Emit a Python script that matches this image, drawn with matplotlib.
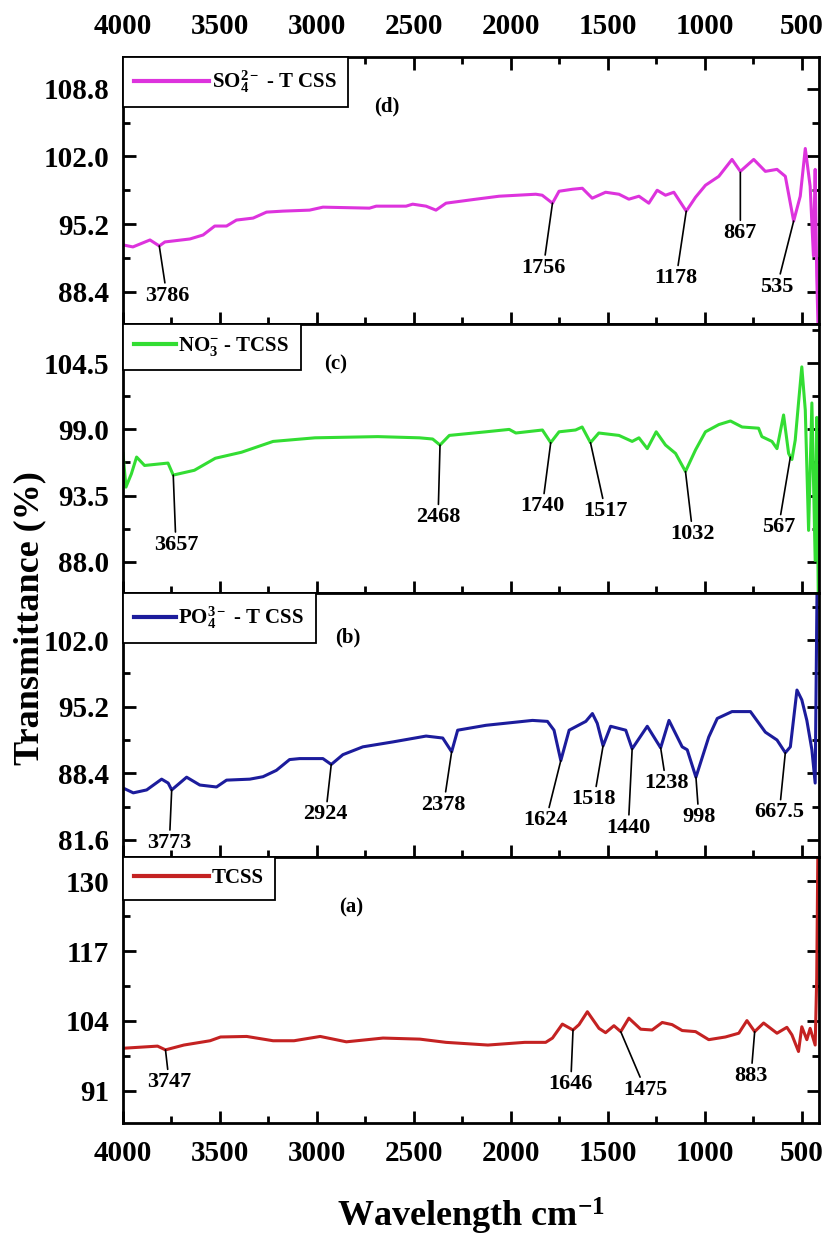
import numpy as np
import matplotlib
matplotlib.use("Agg")
import matplotlib.pyplot as plt
from matplotlib.ticker import MultipleLocator, AutoMinorLocator, FormatStrFormatter

plt.rcParams['font.family'] = ['Liberation Serif', 'DejaVu Serif']
plt.rcParams['font.weight'] = 'bold'
plt.rcParams['mathtext.fontset'] = 'custom'
plt.rcParams['mathtext.rm'] = 'Liberation Serif:bold'
plt.rcParams['mathtext.it'] = 'Liberation Serif:bold'
plt.rcParams['mathtext.bf'] = 'Liberation Serif:bold'

# (d) SO4 2- - TCSS
wn_d = [4000, 3949, 3861, 3813, 3784, 3655, 3587, 3527, 3466, 3415, 3329, 3260, 3175, 3038,
        2969, 2729, 2694, 2540, 2506, 2437, 2386, 2334, 2180, 2060, 1871, 1838, 1785, 1751,
        1682, 1631, 1580, 1511, 1442, 1391, 1339, 1288, 1245, 1202, 1159, 1095, 1047, 996,
        927, 859, 816, 747, 687, 627, 584, 541, 507, 481, 456, 439, 430, 422, 414]
t_d = [93.1, 92.9, 93.6, 93.0, 93.4, 93.7, 94.1, 95.0, 95.0, 95.6, 95.8, 96.4, 96.5, 96.6,
       96.9, 96.8, 97.0, 97.0, 97.2, 97.0, 96.6, 97.3, 97.7, 98.0, 98.2, 98.1, 97.3, 98.5,
       98.7, 98.8, 97.8, 98.4, 98.2, 97.7, 98.0, 97.3, 98.6, 98.1, 98.4, 96.5, 97.9, 99.1,
       100.0, 101.7, 100.5, 101.7, 100.5, 100.7, 100.0, 95.5, 98.0, 102.8, 99.0, 92.0, 100.7, 90.0, 84.0]

# (c) NO3- - TCSS
wn_c = [4000, 3985, 3957, 3930, 3889, 3768, 3741, 3632, 3524, 3389, 3226, 3010, 2686, 2471,
        2403, 2365, 2317, 2128, 2008, 1974, 1837, 1794, 1751, 1666, 1632, 1589, 1546, 1442,
        1374, 1339, 1296, 1250, 1202, 1150, 1099, 1047, 996, 927, 867, 807, 722, 705, 653,
        627, 593, 567, 550, 533, 516, 499, 481, 464, 447, 430, 422, 414]
t_c = [97.0, 94.2, 95.3, 96.7, 96.0, 96.2, 95.2, 95.6, 96.6, 97.1, 98.0, 98.3, 98.4, 98.3,
       98.2, 97.7, 98.5, 98.8, 99.0, 98.7, 98.95, 97.9, 98.8, 98.95, 99.2, 97.9, 98.7, 98.5,
       98.0, 98.3, 97.4, 98.8, 97.7, 97.0, 95.5, 97.3, 98.8, 99.4, 99.7, 99.2, 99.1, 98.4, 98.0,
       97.4, 100.2, 97.0, 96.5, 98.1, 101.2, 104.2, 100.6, 90.6, 101.2, 88.1, 100.0, 85.0]

# (b) PO4 3- - TCSS
wn_b = [4000, 3947, 3878, 3801, 3767, 3749, 3672, 3604, 3518, 3466, 3346, 3278, 3209, 3141,
        3089, 2969, 2926, 2866, 2763, 2609, 2437, 2351, 2305, 2274, 2128, 1888, 1811, 1777,
        1742, 1699, 1613, 1579, 1554, 1524, 1485, 1407, 1374, 1296, 1227, 1184, 1116, 1090,
        1045, 979, 935, 859, 764, 687, 627, 584, 558, 524, 499, 473, 447, 430, 420]
t_b = [86.9, 86.4, 86.7, 87.8, 87.4, 86.7, 88.0, 87.2, 87.0, 87.7, 87.8, 88.05, 88.7, 89.8,
       89.9, 89.9, 89.3, 90.3, 91.1, 91.6, 92.2, 92.0, 90.6, 92.8, 93.3, 93.8, 93.7, 92.8,
       89.7, 92.8, 93.7, 94.5, 93.5, 91.2, 93.2, 92.8, 90.9, 93.2, 91.0, 93.8, 91.1, 90.8,
       88.0, 92.1, 94.0, 94.7, 94.7, 92.6, 91.8, 90.5, 91.1, 96.9, 95.9, 93.8, 90.8, 87.4, 108.0]

# (a) TCSS
wn_a = [4000, 3822, 3781, 3686, 3551, 3497, 3362, 3226, 3118, 2983, 2848, 2659, 2469, 2334,
        2118, 1928, 1820, 1785, 1734, 1679, 1648, 1605, 1545, 1511, 1468, 1433, 1391, 1330,
        1271, 1219, 1168, 1116, 1047, 979, 893, 824, 782, 742, 696, 627, 576, 550, 516, 499,
        473, 456, 430, 422, 416]
t_a = [98.9, 99.3, 98.6, 99.5, 100.3, 101.0, 101.1, 100.3, 100.3, 101.1, 100.1, 100.8, 100.6, 100.0,
       99.5, 100.0, 100.0, 100.8, 103.4, 102.3, 103.3, 105.7, 102.6, 101.8, 103.1, 102.0, 104.5, 102.45,
       102.3, 103.7, 103.3, 102.2, 102.0, 100.5, 101.0, 101.7, 104.05, 102.0, 103.6, 101.7, 102.8, 101.4, 98.3, 102.9,
       100.5, 102.6, 99.5, 112.0, 136.0]

# peak labels: (text, wn on curve, T on curve, wn of text, T of text)
peaks_d = [("3786", 3813, 93.0, 3774, 88.0), ("1756", 1785, 97.3, 1832, 90.8),
           ("1178", 1095, 96.5, 1147, 89.75), ("867", 816, 100.4, 816, 94.3),
           ("535", 541, 95.5, 627, 88.9)]
peaks_c = [("3657", 3741, 95.2, 3727, 89.4), ("2468", 2365, 97.7, 2375, 91.7),
           ("1740", 1794, 97.9, 1837, 92.6), ("1517", 1589, 97.9, 1511, 92.2),
           ("1032", 1099, 95.5, 1061, 90.3), ("567", 558, 96.7, 619, 90.85)]
peaks_b = [("3773", 3749, 86.7, 3761, 81.3), ("2924", 2926, 89.3, 2955, 84.2),
           ("2378", 2305, 90.6, 2346, 85.2), ("1624", 1742, 89.7, 1819, 83.6),
           ("1518", 1524, 91.2, 1571, 85.75), ("1440", 1374, 90.9, 1394, 82.85),
           ("1238", 1227, 91.0, 1199, 87.4), ("998", 1045, 88.0, 1030, 83.95),
           ("667.5", 584, 90.5, 615, 84.4)]
peaks_a = [("3747", 3781, 98.6, 3762, 92.6), ("1646", 1679, 102.3, 1691, 92.2),
           ("1475", 1433, 102.0, 1305, 91.15), ("883", 742, 102.0, 761, 93.75)]

panels = [
    # wn, T, color, legend, tag, ylim, yticks, fmt, peaks, rect, tagpos, handle length
    (wn_d, t_d, '#dd33dd', 'SO$_4^{2-}$ - T CSS', '(d)', (85.15, 112.0), [88.4, 95.2, 102.0, 108.8],
     '%.1f', peaks_d, [0.1493, 0.7381, 0.8447, 0.2158], (0.379, 0.813), 3.6),
    (wn_c, t_c, '#33dd33', 'NO$_3^{-}$ - TCSS', '(c)', (85.39, 107.77), [88.0, 93.5, 99.0, 104.5],
     '%.1f', peaks_c, [0.1493, 0.5206, 0.8447, 0.2175], (0.305, 0.848), 2.0),
    (wn_b, t_b, '#1c1c9c', 'PO$_4^{3-}$ - T CSS', '(b)', (79.85, 106.81), [81.6, 88.4, 95.2, 102.0],
     '%.1f', peaks_b, [0.1493, 0.3072, 0.8447, 0.2134], (0.323, 0.833), 2.0),
    (wn_a, t_a, '#c42222', 'TCSS', '(a)', (85.0, 134.5), [91, 104, 117, 130],
     '%d', peaks_a, [0.1493, 0.0922, 0.8447, 0.2150], (0.328, 0.812), 3.6),
]

fig = plt.figure(figsize=(8.24, 12.37), dpi=100)

for i, (wn, t, col, lab, tag, ylim, yt, fmt, peaks, rect, tagpos, hl) in enumerate(panels):
    ax = fig.add_axes(rect)
    ax.plot(wn, t, color=col, lw=2.2, label=lab)
    ax.set_xlim(4000, 410)
    ax.set_ylim(*ylim)
    ax.set_yticks(yt)
    ax.yaxis.set_major_formatter(FormatStrFormatter(fmt))
    ax.yaxis.set_minor_locator(AutoMinorLocator(2))
    ax.xaxis.set_major_locator(MultipleLocator(500))
    ax.xaxis.set_minor_locator(MultipleLocator(250))
    for sp in ax.spines.values():
        sp.set_linewidth(2.0)
    ax.tick_params(which='both', direction='in', right=True, top=(i == 0),
                   width=2.0, labelsize=21, pad=10)
    ax.tick_params(which='major', length=9)
    ax.tick_params(which='minor', length=5)
    ax.tick_params(axis='x', labeltop=(i == 0), labelbottom=(i == 3), pad=12)
    leg = ax.legend(loc='upper left', borderaxespad=0, fancybox=False, edgecolor='black',
                    framealpha=1, handlelength=hl, handletextpad=0.1, borderpad=0.55,
                    prop={'size': 15, 'weight': 'bold'})
    leg.get_frame().set_linewidth(1.3)
    for ln in leg.get_lines():
        ln.set_linewidth(3)
    ax.text(tagpos[0], tagpos[1], tag, transform=ax.transAxes, fontsize=15,
            ha='center', va='center')
    for txt, x0, y0, x1, y1 in peaks:
        ax.annotate(txt, xy=(x0, y0), xytext=(x1, y1), ha='center', va='center',
                    fontsize=16, arrowprops=dict(arrowstyle='-', color='black', lw=1.2,
                                                 shrinkA=0, shrinkB=0))

fig.text(0.5714, 0.017, 'Wavelength cm$^{-1}$', ha='center', va='center', fontsize=26)
fig.text(0.036, 0.50, 'Transmittance (%)', rotation=90, ha='center', va='center', fontsize=26)

fig.savefig('out.png', dpi=100)
